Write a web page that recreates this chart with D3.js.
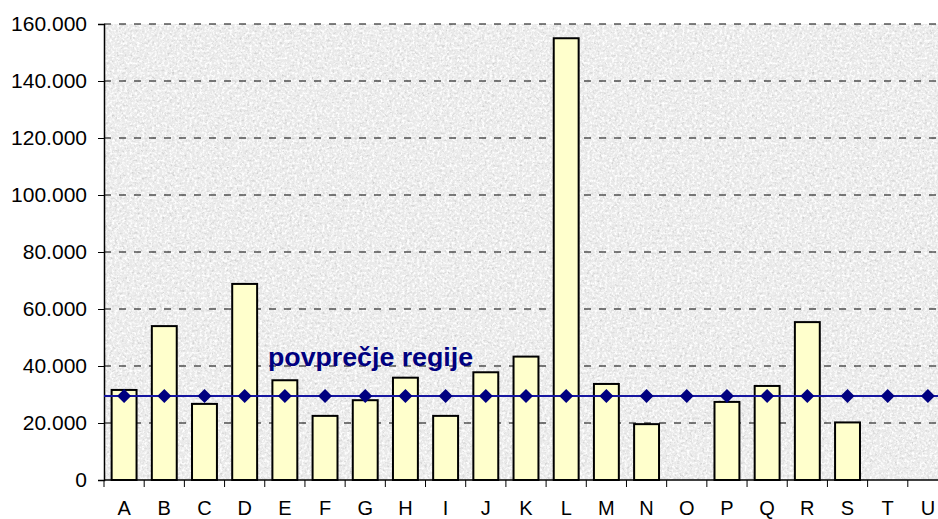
<!DOCTYPE html>
<html>
<head>
<meta charset="utf-8">
<script src="https://cdn.jsdelivr.net/npm/d3@7"></script>
<style>
  body { margin: 0; background: #fff; }
  text { font-family: "Liberation Sans", Arial, sans-serif; }
</style>
</head>
<body>
<div id="chart"></div>
<script>
// data
var regions = ["A","B","C","D","E","F","G","H","I","J","K","L","M","N","O","P","Q","R","S","T","U"];
var values = [31600, 54000, 26700, 68800, 35000, 22500, 28000, 35900, 22500, 37800, 43300, 155000, 33700, 19600, 0, 27400, 33000, 55400, 20200, 0, 0];
var average = 29500;
var yTicks = [0, 20000, 40000, 60000, 80000, 100000, 120000, 140000, 160000];
var avgLabel = "povprečje regije";

var W = 938, H = 519;
var margin = {top: 24, left: 104, bottom: 39};
var plotRight = 948;

var rows = regions.map(function(r, i) { return {region: r, value: values[i]}; });

var svg = d3.select("#chart").append("svg")
    .attr("width", W)
    .attr("height", H);

// granite-like background texture
var defs = svg.append("defs");
var f = defs.append("filter").attr("id", "granite")
    .attr("x", 0).attr("y", 0).attr("width", 1).attr("height", 1);
f.append("feTurbulence")
    .attr("type", "fractalNoise")
    .attr("baseFrequency", 0.4)
    .attr("numOctaves", 3)
    .attr("seed", 7)
    .attr("result", "noise");
// dark specks from red channel
f.append("feColorMatrix")
    .attr("in", "noise").attr("type", "matrix")
    .attr("values", "0 0 0 0 0.62  0 0 0 0 0.62  0 0 0 0 0.62  3 0 0 0 -1.6")
    .attr("result", "dark");
// light specks from green channel
f.append("feColorMatrix")
    .attr("in", "noise").attr("type", "matrix")
    .attr("values", "0 0 0 0 1  0 0 0 0 1  0 0 0 0 1  0 3 0 0 -1.3")
    .attr("result", "light");
f.append("feMerge").call(function(m) {
  m.append("feMergeNode").attr("in", "SourceGraphic");
  m.append("feMergeNode").attr("in", "dark");
  m.append("feMergeNode").attr("in", "light");
});

var x = d3.scaleBand()
    .domain(regions)
    .range([margin.left, plotRight])
    .paddingInner(0.38)
    .paddingOuter(0.19);

var y = d3.scaleLinear()
    .domain([0, 160000])
    .range([H - margin.bottom, margin.top]);

var locale = d3.formatLocale({decimal: ",", thousands: ".", grouping: [3], currency: ["", ""]});
var fmt = locale.format(",");

// plot background
svg.append("rect")
    .attr("x", margin.left).attr("y", margin.top)
    .attr("width", plotRight - margin.left)
    .attr("height", y(0) - margin.top)
    .attr("fill", "#e9e9e9")
    .attr("filter", "url(#granite)");

// dashed gridlines
svg.append("g")
  .selectAll("line")
  .data(yTicks.filter(function(d) { return d > 0; }))
  .enter().append("line")
    .attr("x1", margin.left).attr("x2", plotRight)
    .attr("y1", function(d) { return y(d); })
    .attr("y2", function(d) { return y(d); })
    .attr("stroke", "#000")
    .attr("stroke-width", 1)
    .attr("stroke-dasharray", "7,8");

// bars (empty regions have no bar)
svg.append("g")
  .selectAll("rect")
  .data(rows.filter(function(d) { return d.value > 0; }))
  .enter().append("rect")
    .attr("x", function(d) { return x(d.region); })
    .attr("y", function(d) { return y(d.value); })
    .attr("width", x.bandwidth())
    .attr("height", function(d) { return y(0) - y(d.value); })
    .attr("fill", "#ffffcc")
    .attr("stroke", "#000")
    .attr("stroke-width", 2);

// y axis
var yAxis = svg.append("g")
    .attr("transform", "translate(" + margin.left + ",0)")
    .call(d3.axisLeft(y).tickValues(yTicks).tickFormat(fmt).tickSize(6).tickPadding(11));
yAxis.select(".domain").attr("stroke-width", 1.5);
yAxis.selectAll("text").attr("font-size", 21).attr("fill", "#000")
    .style("font-family", "'Liberation Sans', Arial, sans-serif");

// x axis with ticks between categories
var xAxis = svg.append("g")
    .attr("transform", "translate(0," + y(0) + ")");
xAxis.append("line")
    .attr("x1", margin.left).attr("x2", plotRight)
    .attr("stroke", "#000").attr("stroke-width", 1.5);
xAxis.selectAll(".sep")
  .data(regions)
  .enter().append("line")
    .attr("class", "sep")
    .attr("x1", function(d) { return x(d) - x.step() * x.paddingInner() / 2; })
    .attr("x2", function(d) { return x(d) - x.step() * x.paddingInner() / 2; })
    .attr("y1", 0).attr("y2", 7)
    .attr("stroke", "#000");
xAxis.selectAll(".lab")
  .data(regions)
  .enter().append("text")
    .attr("class", "lab")
    .attr("x", function(d) { return x(d) + x.bandwidth() / 2; })
    .attr("y", 35)
    .attr("text-anchor", "middle")
    .attr("font-size", 20)
    .text(function(d) { return d; });

// average line with diamonds
svg.append("line")
    .attr("x1", margin.left).attr("x2", plotRight)
    .attr("y1", y(average)).attr("y2", y(average))
    .attr("stroke", "#1515a0")
    .attr("stroke-width", 2);

svg.append("g")
  .selectAll("path")
  .data(regions)
  .enter().append("path")
    .attr("transform", function(d) { return "translate(" + (x(d) + x.bandwidth() / 2) + "," + y(average) + ")"; })
    .attr("d", "M0,-7L7,0L0,7L-7,0Z")
    .attr("fill", "#000080");

svg.append("text")
    .attr("x", 268)
    .attr("y", 366)
    .attr("font-size", 25)
    .attr("font-weight", "bold")
    .attr("fill", "#000080")
    .attr("textLength", 205)
    .attr("lengthAdjust", "spacingAndGlyphs")
    .text(avgLabel);
</script>
</body>
</html>
